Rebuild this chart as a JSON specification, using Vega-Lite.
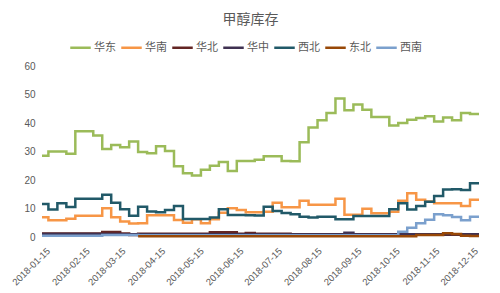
{
  "$schema": "https://vega.github.io/schema/vega-lite/v6.json",
  "width": 437,
  "height": 171.5,
  "autosize": {"type": "none"},
  "padding": {"left": 42, "top": 66, "right": 21, "bottom": 55.5},
  "background": "white",
  "title": {"text": "甲醇库存", "font": "Noto Sans CJK SC", "fontSize": 14, "fontWeight": "normal", "color": "#595959", "offset": 9, "dx": -10, "anchor": "middle"},
  "data": {
    "values": [
      {"date": "2018-01-13", "华东": 28.6, "华南": 7.1, "华北": 1.4, "华中": 1.2, "西北": 11.7, "西南": 0.6},
      {"date": "2018-01-18", "华东": 30.1, "华南": 6.0, "华北": 1.4, "华中": 1.2, "西北": 9.8, "西南": 0.6},
      {"date": "2018-01-25", "华东": 30.1, "华南": 6.0, "华北": 1.4, "华中": 1.2, "西北": 12.0, "西南": 0.6},
      {"date": "2018-02-01", "华东": 29.3, "华南": 6.6, "华北": 1.4, "华中": 1.2, "西北": 10.7, "西南": 0.6},
      {"date": "2018-02-08", "华东": 37.2, "华南": 7.6, "华北": 1.4, "华中": 1.2, "西北": 13.6, "西南": 0.6},
      {"date": "2018-02-15", "华东": 37.2, "华南": 7.6, "华北": 1.4, "华中": 1.2, "西北": 13.6, "西南": 0.6},
      {"date": "2018-02-22", "华东": 35.7, "华南": 7.6, "华北": 1.4, "华中": 1.2, "西北": 13.6, "西南": 0.6},
      {"date": "2018-03-01", "华东": 31.0, "华南": 10.2, "华北": 1.9, "华中": 1.2, "西北": 15.0, "西南": 0.9},
      {"date": "2018-03-08", "华东": 32.4, "华南": 7.1, "华北": 1.9, "华中": 1.2, "西北": 12.2, "西南": 0.9},
      {"date": "2018-03-15", "华东": 31.6, "华南": 5.6, "华北": 1.4, "华中": 1.1, "西北": 9.9, "西南": 0.9},
      {"date": "2018-03-22", "华东": 33.6, "华南": 4.9, "华北": 0.9, "华中": 1.1, "西北": 7.6, "西南": 0.9},
      {"date": "2018-03-29", "华东": 29.9, "华南": 5.0, "华北": 1.3, "华中": 1.1, "西北": 10.8, "东北": 0.4, "西南": 0.8},
      {"date": "2018-04-05", "华东": 29.5, "华南": 7.8, "华北": 1.3, "华中": 1.1, "西北": 9.1, "东北": 0.4, "西南": 0.8},
      {"date": "2018-04-12", "华东": 31.9, "华南": 7.8, "华北": 1.3, "华中": 1.1, "西北": 8.8, "东北": 0.4, "西南": 0.8},
      {"date": "2018-04-19", "华东": 30.3, "华南": 7.8, "华北": 1.3, "华中": 1.1, "西北": 9.6, "东北": 0.4, "西南": 0.8},
      {"date": "2018-04-26", "华东": 24.9, "华南": 6.1, "华北": 1.3, "华中": 1.1, "西北": 11.0, "东北": 0.4, "西南": 0.8},
      {"date": "2018-05-03", "华东": 22.5, "华南": 5.2, "华北": 1.3, "华中": 1.1, "西北": 6.5, "东北": 0.4, "西南": 0.8},
      {"date": "2018-05-10", "华东": 21.7, "华南": 6.4, "华北": 1.3, "华中": 1.1, "西北": 6.5, "东北": 0.4, "西南": 0.8},
      {"date": "2018-05-17", "华东": 23.7, "华南": 5.0, "华北": 1.3, "华中": 1.1, "西北": 6.5, "东北": 0.4, "西南": 0.8},
      {"date": "2018-05-24", "华东": 25.1, "华南": 6.4, "华北": 1.8, "华中": 1.1, "西北": 7.0, "东北": 0.4, "西南": 0.8},
      {"date": "2018-05-31", "华东": 26.4, "华南": 8.7, "华北": 1.8, "华中": 1.1, "西北": 9.9, "东北": 0.4, "西南": 0.8},
      {"date": "2018-06-07", "华东": 23.3, "华南": 10.2, "华北": 1.8, "华中": 1.1, "西北": 7.9, "东北": 0.4, "西南": 0.8},
      {"date": "2018-06-14", "华东": 26.8, "华南": 9.6, "华北": 1.3, "华中": 1.1, "西北": 7.9, "东北": 0.4, "西南": 0.8},
      {"date": "2018-06-21", "华东": 26.8, "华南": 8.8, "华北": 1.6, "华中": 1.1, "西北": 7.8, "东北": 0.4, "西南": 0.8},
      {"date": "2018-06-28", "华东": 27.2, "华南": 8.8, "华北": 1.3, "华中": 1.1, "西北": 7.7, "东北": 0.4, "西南": 0.8},
      {"date": "2018-07-05", "华东": 28.4, "华南": 9.0, "华北": 1.3, "华中": 1.1, "西北": 10.8, "东北": 0.4, "西南": 0.8},
      {"date": "2018-07-12", "华东": 28.4, "华南": 12.2, "华北": 1.3, "华中": 1.1, "西北": 9.3, "东北": 0.4, "西南": 0.8},
      {"date": "2018-07-19", "华东": 26.8, "华南": 10.6, "华北": 1.3, "华中": 1.1, "西北": 8.6, "东北": 0.4, "西南": 0.8},
      {"date": "2018-07-26", "华东": 26.7, "华南": 10.6, "华北": 1.0, "华中": 1.1, "西北": 8.1, "东北": 0.4, "西南": 0.8},
      {"date": "2018-08-02", "华东": 33.3, "华南": 12.9, "华北": 1.0, "华中": 1.1, "西北": 7.3, "东北": 0.4, "西南": 0.8},
      {"date": "2018-08-09", "华东": 38.5, "华南": 11.5, "华北": 1.0, "华中": 1.1, "西北": 7.0, "东北": 0.4, "西南": 0.8},
      {"date": "2018-08-16", "华东": 41.0, "华南": 11.5, "华北": 1.0, "华中": 1.1, "西北": 7.3, "东北": 0.4, "西南": 0.8},
      {"date": "2018-08-23", "华东": 43.6, "华南": 11.5, "华北": 1.0, "华中": 1.1, "西北": 7.3, "东北": 0.4, "西南": 0.8},
      {"date": "2018-08-30", "华东": 48.6, "华南": 13.6, "华北": 1.0, "华中": 1.1, "西北": 6.4, "东北": 0.4, "西南": 0.8},
      {"date": "2018-09-06", "华东": 44.5, "华南": 8.0, "华北": 1.0, "华中": 1.7, "西北": 6.4, "东北": 0.4, "西南": 0.8},
      {"date": "2018-09-13", "华东": 46.5, "华南": 8.0, "华北": 1.0, "华中": 1.1, "西北": 7.5, "东北": 0.4, "西南": 0.8},
      {"date": "2018-09-20", "华东": 44.7, "华南": 10.1, "华北": 1.0, "华中": 1.1, "西北": 7.5, "东北": 0.4, "西南": 0.8},
      {"date": "2018-09-27", "华东": 42.2, "华南": 8.5, "华北": 1.0, "华中": 1.1, "西北": 7.5, "东北": 0.4, "西南": 0.8},
      {"date": "2018-10-04", "华东": 42.2, "华南": 8.5, "华北": 1.0, "华中": 1.1, "西北": 7.5, "东北": 0.4, "西南": 0.8},
      {"date": "2018-10-11", "华东": 39.2, "华南": 9.0, "华北": 1.0, "华中": 1.1, "西北": 9.9, "东北": 0.4, "西南": 0.8},
      {"date": "2018-10-18", "华东": 40.1, "华南": 12.9, "华北": 1.0, "华中": 1.1, "西北": 12.0, "东北": 0.4, "西南": 2.0},
      {"date": "2018-10-25", "华东": 41.2, "华南": 15.5, "华北": 1.0, "华中": 1.1, "西北": 9.8, "东北": 0.4, "西南": 3.4},
      {"date": "2018-11-01", "华东": 41.8, "华南": 13.2, "华北": 1.0, "华中": 1.1, "西北": 11.0, "东北": 0.9, "西南": 5.0},
      {"date": "2018-11-08", "华东": 42.4, "华南": 12.6, "华北": 1.0, "华中": 1.1, "西北": 12.5, "东北": 0.9, "西南": 6.2},
      {"date": "2018-11-15", "华东": 40.6, "华南": 12.0, "华北": 1.0, "华中": 1.1, "西北": 14.5, "东北": 0.9, "西南": 8.1},
      {"date": "2018-11-22", "华东": 42.0, "华南": 12.0, "华北": 1.0, "华中": 1.1, "西北": 16.8, "东北": 1.5, "西南": 7.8},
      {"date": "2018-11-29", "华东": 41.0, "华南": 12.0, "华北": 1.0, "华中": 1.1, "西北": 16.9, "东北": 1.2, "西南": 7.2},
      {"date": "2018-12-06", "华东": 43.6, "华南": 11.0, "华北": 1.0, "华中": 1.1, "西北": 16.6, "东北": 0.6, "西南": 6.0},
      {"date": "2018-12-13", "华东": 43.2, "华南": 13.2, "华北": 1.0, "华中": 1.1, "西北": 19.0, "东北": 0.5, "西南": 7.3},
      {"date": "2018-12-20", "华东": 43.2, "华南": 13.2, "华北": 1.0, "华中": 1.1, "西北": 19.0, "东北": 0.5, "西南": 7.3}
    ]
  },
  "transform": [
    {"fold": ["华东", "华南", "华北", "华中", "西北", "东北", "西南"], "as": ["region", "value"]},
    {"filter": "isValid(datum.value)"}
  ],
  "mark": {"type": "line", "interpolate": "step-after", "strokeWidth": 2.5},
  "encoding": {
    "x": {
      "field": "date",
      "type": "temporal",
      "scale": {"type": "utc", "domain": [{"year": 2018, "month": 1, "date": 13, "utc": true}, {"year": 2018, "month": 12, "date": 20, "utc": true}]},
      "axis": {
        "title": null,
        "values": [
          {"year": 2018, "month": 1, "date": 15, "utc": true},
          {"year": 2018, "month": 2, "date": 15, "utc": true},
          {"year": 2018, "month": 3, "date": 15, "utc": true},
          {"year": 2018, "month": 4, "date": 15, "utc": true},
          {"year": 2018, "month": 5, "date": 15, "utc": true},
          {"year": 2018, "month": 6, "date": 15, "utc": true},
          {"year": 2018, "month": 7, "date": 15, "utc": true},
          {"year": 2018, "month": 8, "date": 15, "utc": true},
          {"year": 2018, "month": 9, "date": 15, "utc": true},
          {"year": 2018, "month": 10, "date": 15, "utc": true},
          {"year": 2018, "month": 11, "date": 15, "utc": true},
          {"year": 2018, "month": 12, "date": 15, "utc": true}
        ],
        "format": "%Y-%m-%d",
        "labelAngle": -45,
        "labelFontSize": 9.5,
        "labelFont": "Liberation Sans",
        "labelColor": "#595959",
        "labelPadding": 8,
        "labelOverlap": false,
        "labelFlush": false,
        "grid": false,
        "domain": false,
        "ticks": false
      }
    },
    "y": {
      "field": "value",
      "type": "quantitative",
      "scale": {"domain": [0, 60]},
      "axis": {
        "title": null,
        "values": [0, 10, 20, 30, 40, 50, 60],
        "labelFontSize": 10,
        "labelFont": "Liberation Sans",
        "labelColor": "#595959",
        "labelPadding": 7,
        "grid": false,
        "domain": false,
        "ticks": false
      }
    },
    "color": {
      "field": "region",
      "type": "nominal",
      "scale": {
        "domain": ["华东", "华南", "华北", "华中", "西北", "东北", "西南"],
        "range": ["#9BBB59", "#F79646", "#632523", "#3F3151", "#215968", "#984807", "#7BA0CD"]
      },
      "legend": {
        "title": null,
        "orient": "none",
        "direction": "horizontal",
        "legendX": 27,
        "legendY": -30,
        "symbolType": "stroke",
        "symbolSize": 420,
        "symbolStrokeWidth": 2.5,
        "labelFont": "Noto Sans CJK SC",
        "labelFontSize": 11,
        "labelColor": "#595959",
        "labelOffset": 2,
        "columnPadding": 0
      }
    }
  },
  "config": {"view": {"stroke": null}}
}
